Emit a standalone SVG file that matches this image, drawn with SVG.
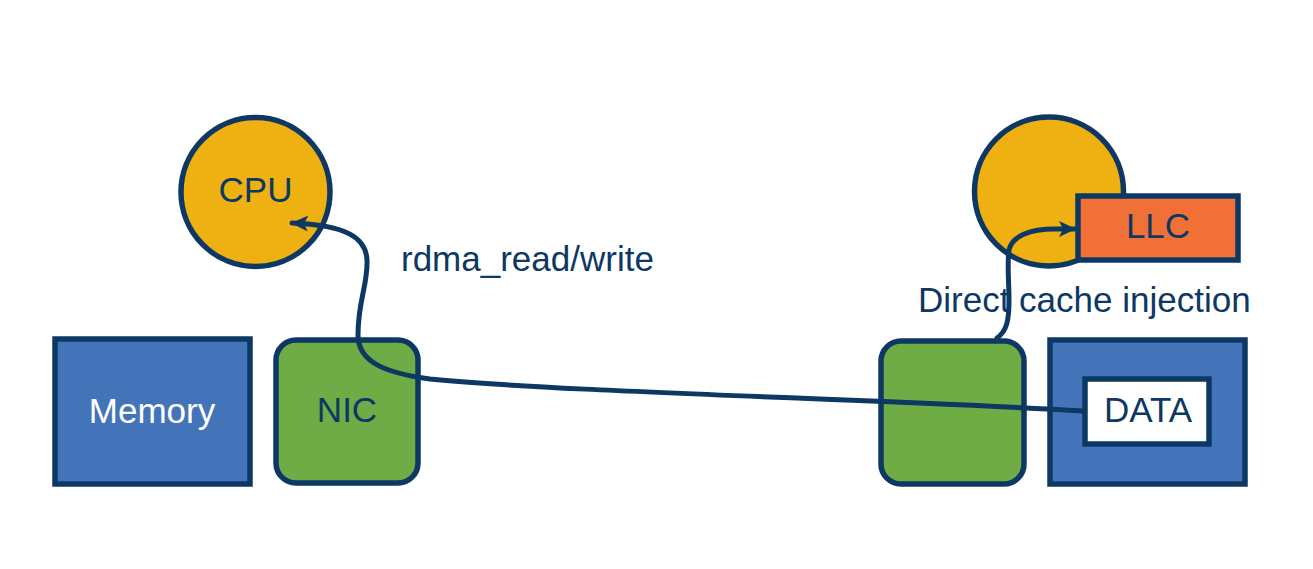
<svg xmlns="http://www.w3.org/2000/svg" width="1313" height="569" viewBox="0 0 1313 569">
<style>
.ol{stroke:#0C3863;stroke-width:5.5}
.cpu{fill:#EEB111}
.mem{fill:#4374BA}
.nic{fill:#6FAC46}
.llc{fill:#F07038}
.data{fill:#FFFFFF}
text{font-family:"Liberation Sans",Arial,sans-serif;font-size:35px}
.dk{fill:#0C3863}
.wt{fill:#FFFFFF}
.conn{fill:none;stroke:#0C3863;stroke-width:5;stroke-linecap:round}
</style>
<defs>
<marker id="arr" markerUnits="userSpaceOnUse" markerWidth="20" markerHeight="16" refX="16" refY="8" orient="auto">
<path d="M0,0 L17,8 L0,16 L4,8 Z" fill="#0C3863"/>
</marker>
</defs>
<rect width="1313" height="569" fill="#FFFFFF"/>
<g id="cpu-left">
<circle class="cpu ol" cx="255.5" cy="192" r="74.5"/>
<text class="dk" x="255.5" y="202" text-anchor="middle">CPU</text>
</g>
<g id="memory-left">
<rect class="mem ol" x="55" y="339" width="195" height="145"/>
<text class="wt" x="152" y="423" text-anchor="middle">Memory</text>
</g>
<g id="nic-left">
<rect class="nic ol" x="276" y="340" width="142" height="143" rx="20"/>
<text class="dk" x="347" y="422" text-anchor="middle">NIC</text>
</g>
<g id="cpu-right">
<circle class="cpu ol" cx="1049" cy="191.5" r="74.5"/>
</g>
<g id="llc">
<rect class="llc ol" x="1078" y="196" width="160" height="64"/>
<text class="dk" x="1158" y="238" text-anchor="middle">LLC</text>
</g>
<g id="nic-right">
<rect class="nic ol" x="881" y="341" width="143" height="143" rx="20"/>
</g>
<g id="memory-right">
<rect class="mem ol" x="1050" y="340" width="195" height="144"/>
</g>
<g id="data">
<rect class="data ol" x="1085" y="379" width="124" height="65"/>
<text class="dk" x="1148" y="422" text-anchor="middle">DATA</text>
</g>
<g id="labels">
<text class="dk" x="401" y="271">rdma_read/write</text>
<text class="dk" x="918" y="312">Direct cache injection</text>
</g>
<g id="connectors">
<path class="conn" d="M1083,411 C880,399 560,392 430,379 C385,373 358,362 358,335 C358,300 368,285 367,260 C366,237 345,225 292,223" marker-end="url(#arr)"/>
<path class="conn" d="M997,338 C1007,331 1009,320 1009,300 C1009,282 1007,265 1009,250 C1012,236 1030,229 1055,229 L1075,229" marker-end="url(#arr)"/>
</g>
</svg>
